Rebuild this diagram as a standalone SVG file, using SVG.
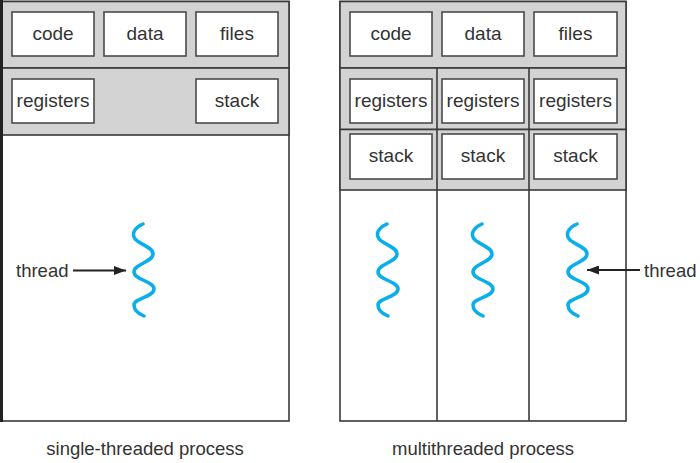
<svg xmlns="http://www.w3.org/2000/svg" xmlns:xlink="http://www.w3.org/1999/xlink" width="700" height="463" viewBox="0 0 700 463">
<style>
.proc{fill:#ffffff;stroke:#3a3a3a;stroke-width:1.6}
.band{fill:#d3d3d3;stroke:#3a3a3a;stroke-width:1.6}
.div{stroke:#3a3a3a;stroke-width:1.6;fill:none}
.box{fill:#ffffff;stroke:#4a4a4a;stroke-width:1.6}
.lbl{font-family:"Liberation Sans",Arial,sans-serif;font-size:19px;fill:#333333;text-anchor:middle}
.cap{font-family:"Liberation Sans",Arial,sans-serif;font-size:18.5px;fill:#333333;text-anchor:middle}
.thr{font-family:"Liberation Sans",Arial,sans-serif;font-size:18.5px;fill:#333333}
.wave{fill:none;stroke:#0aaeea;stroke-width:3.5;stroke-linecap:round}
.arr{stroke:#222222;stroke-width:2;fill:none}
</style>
<defs>
<path id="squig" d="M387,224 C380,227 376,232 378,237 C380,244 397,246 397,254 C397,262 378,264 378,272 C378,280 398,281 398,289 C398,297 378,298 378,305 C378,310 383,314 388,316"/>
<marker id="ah" viewBox="0 0 12 9" refX="12" refY="4.5" markerWidth="12" markerHeight="9" markerUnits="userSpaceOnUse" orient="auto">
<path d="M0,0 L12,4.5 L0,9 Z" fill="#222222"/>
</marker>
</defs>

<g id="single-process">
<rect class="proc" x="2" y="1.5" width="287" height="419.5"/>
<rect class="band" x="2" y="1.5" width="287" height="66.5"/>
<rect class="band" x="2" y="68" width="287" height="67"/>
<line x1="1.5" y1="0" x2="1.5" y2="422" stroke="#222222" stroke-width="3"/>
</g>
<g id="single-code"><rect class="box" x="12" y="12" width="82" height="44"/><text class="lbl" x="53" y="40">code</text></g>
<g id="single-data"><rect class="box" x="104" y="12" width="82" height="44"/><text class="lbl" x="145" y="40">data</text></g>
<g id="single-files"><rect class="box" x="196" y="12" width="82" height="44"/><text class="lbl" x="237" y="40">files</text></g>
<g id="single-registers"><rect class="box" x="12" y="79" width="82" height="44"/><text class="lbl" x="53" y="107">registers</text></g>
<g id="single-stack"><rect class="box" x="196" y="79" width="82" height="44"/><text class="lbl" x="237" y="107">stack</text></g>
<g id="single-thread"><use href="#squig" xlink:href="#squig" class="wave" transform="translate(-244,0)"/></g>
<g id="single-thread-label"><text class="thr" x="16" y="277">thread</text></g>
<text class="cap" x="145" y="455">single-threaded process</text>

<g id="multi-process">
<rect class="proc" x="340" y="1.5" width="286" height="419.5"/>
<rect class="band" x="340" y="1.5" width="286" height="66.5"/>
<rect class="band" x="340" y="68" width="286" height="61.5"/>
<rect class="band" x="340" y="129.5" width="286" height="60.5"/>
<line class="div" x1="437" y1="68" x2="437" y2="421"/>
<line class="div" x1="529" y1="68" x2="529" y2="421"/>
</g>
<g id="multi-code"><rect class="box" x="350" y="12" width="82" height="44"/><text class="lbl" x="391" y="40">code</text></g>
<g id="multi-data"><rect class="box" x="442" y="12" width="82" height="44"/><text class="lbl" x="483" y="40">data</text></g>
<g id="multi-files"><rect class="box" x="534" y="12" width="83" height="44"/><text class="lbl" x="575.5" y="40">files</text></g>
<g id="multi-registers-1"><rect class="box" x="350" y="79" width="82" height="44"/><text class="lbl" x="391" y="107">registers</text></g>
<g id="multi-registers-2"><rect class="box" x="442" y="79" width="82" height="44"/><text class="lbl" x="483" y="107">registers</text></g>
<g id="multi-registers-3"><rect class="box" x="534" y="79" width="83" height="44"/><text class="lbl" x="575.5" y="107">registers</text></g>
<g id="multi-stack-1"><rect class="box" x="350" y="134" width="82" height="45"/><text class="lbl" x="391" y="162">stack</text></g>
<g id="multi-stack-2"><rect class="box" x="442" y="134" width="82" height="45"/><text class="lbl" x="483" y="162">stack</text></g>
<g id="multi-stack-3"><rect class="box" x="534" y="134" width="83" height="45"/><text class="lbl" x="575.5" y="162">stack</text></g>
<g id="multi-thread-1"><use href="#squig" xlink:href="#squig" class="wave"/></g>
<g id="multi-thread-2"><use href="#squig" xlink:href="#squig" class="wave" transform="translate(95,0)"/></g>
<g id="multi-thread-3"><use href="#squig" xlink:href="#squig" class="wave" transform="translate(190,0)"/></g>
<g id="multi-thread-label"><text class="thr" x="644" y="277">thread</text></g>
<text class="cap" x="483" y="455">multithreaded process</text>

<g id="connectors">
<line class="arr" x1="73" y1="270.5" x2="126" y2="270.5" marker-end="url(#ah)"/>
<line class="arr" x1="640" y1="270" x2="587" y2="270" marker-end="url(#ah)"/>
</g>
</svg>
